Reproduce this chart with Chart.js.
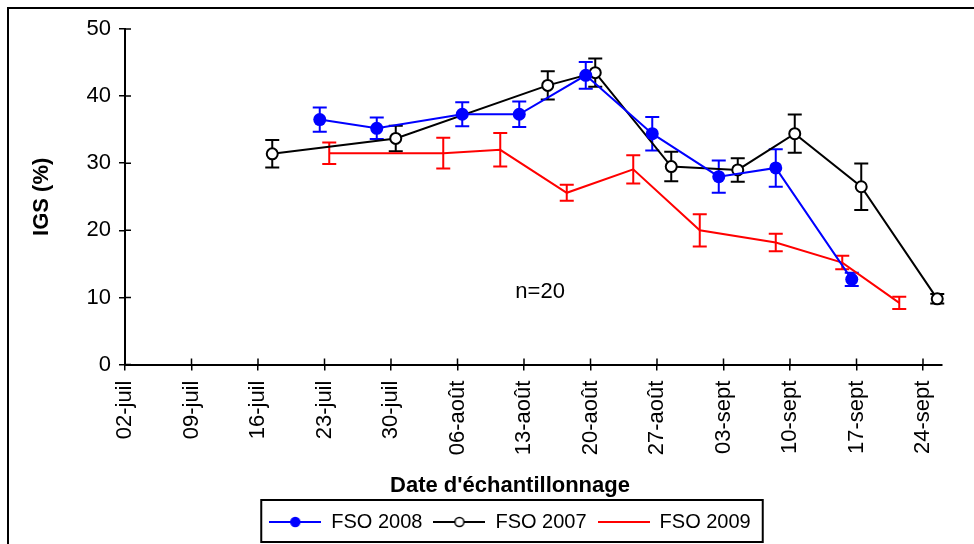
<!DOCTYPE html>
<html>
<head>
<meta charset="utf-8">
<script src="https://cdn.jsdelivr.net/npm/chart.js"></script>
<style>
	body { margin: 0; overflow: hidden; background: #fff; }
	#frame { position: absolute; left: 7px; top: 7px; width: 2000px; height: 2000px; border: 2px solid #000; }
	#wrap { position: absolute; left: 0; top: 0; width: 1020px; height: 544px; }
</style>
</head>
<body>
<div id="frame"></div>
<div id="wrap"><canvas id="Chart"></canvas></div>
<script>
// days counted from 02-juil
const tickDays = [0, 7, 14, 21, 28, 35, 42, 49, 56, 63, 70, 77, 84];
const tickLabels = ['02-juil', '09-juil', '16-juil', '23-juil', '30-juil', '06-août', '13-août',
	'20-août', '27-août', '03-sept', '10-sept', '17-sept', '24-sept'];

const fso2008Days = [20.5, 26.5, 35.5, 41.5, 48.5, 55.5, 62.5, 68.5, 76.5];
const fso2008Igs = [36.5, 35.2, 37.3, 37.3, 43.1, 34.4, 28.0, 29.3, 12.7];
const fso2008Err = [1.8, 1.6, 1.8, 1.9, 2.0, 2.5, 2.4, 2.8, 1.0];

const fso2007Days = [15.5, 28.5, 44.5, 49.5, 57.5, 64.5, 70.5, 77.5, 85.5];
const fso2007Igs = [31.4, 33.7, 41.6, 43.5, 29.5, 29.0, 34.4, 26.5, 9.8];
const fso2007Err = [2.05, 1.9, 2.1, 2.1, 2.2, 1.75, 2.85, 3.45, 0.7];

const fso2009Days = [21.5, 33.5, 39.5, 46.5, 53.5, 60.5, 68.5, 75.5, 81.5];
const fso2009Igs = [31.5, 31.5, 32.0, 25.6, 29.1, 20.0, 18.2, 15.2, 9.2];
const fso2009Err = [1.6, 2.3, 2.5, 1.2, 2.1, 2.4, 1.3, 1.0, 0.9];

const note = { text: 'n=20', day: 43.7, igs: 10.9 };

const FONT = "'Liberation Sans', Arial, sans-serif";

const toPoints = (days, vals) => days.map((d, i) => ({ x: d, y: vals[i] }));

// small line+marker icon for the legend
function legendIcon(color, fill, radius)
{
	const c = document.createElement('canvas');
	c.width = 52; c.height = 14;
	const g = c.getContext('2d');
	g.strokeStyle = color; g.lineWidth = 2;
	g.beginPath(); g.moveTo(0, 7); g.lineTo(52, 7); g.stroke();
	if (radius > 0) {
		g.beginPath(); g.arc(26, 7, radius, 0, Math.PI * 2);
		g.fillStyle = fill; g.fill();
		g.lineWidth = 1.5; g.stroke();
	}
	return c;
}

const errorBars = {
	id: 'errorBars',
	beforeDatasetsDraw(chart) {
		const ctx = chart.ctx;
		const xs = chart.scales.x, ys = chart.scales.y;
		ctx.save();
		chart.data.datasets.forEach((ds) => {
			ctx.strokeStyle = ds.borderColor;
			ctx.lineWidth = 2;
			ds.data.forEach((p, i) => {
				const e = ds.errors[i];
				const px = xs.getPixelForValue(p.x);
				const top = ys.getPixelForValue(p.y + e);
				const bot = ys.getPixelForValue(p.y - e);
				ctx.beginPath();
				ctx.moveTo(px, top); ctx.lineTo(px, bot);
				ctx.moveTo(px - 7, top); ctx.lineTo(px + 7, top);
				ctx.moveTo(px - 7, bot); ctx.lineTo(px + 7, bot);
				ctx.stroke();
			});
		});
		ctx.restore();
	},
	afterDraw(chart) {
		const ctx = chart.ctx;
		const xs = chart.scales.x, ys = chart.scales.y;
		const area = chart.chartArea;
		ctx.save();
		// inner half of the crossing tick marks
		ctx.strokeStyle = '#000'; ctx.lineWidth = 1.5;
		ctx.beginPath();
		xs.ticks.forEach((t) => {
			const px = xs.getPixelForValue(t.value);
			ctx.moveTo(px, area.bottom); ctx.lineTo(px, area.bottom - 6);
		});
		ys.ticks.forEach((t) => {
			const py = ys.getPixelForValue(t.value);
			ctx.moveTo(area.left, py); ctx.lineTo(area.left + 6, py);
		});
		ctx.stroke();
		// box round the legend
		const boxes = chart.legend.legendHitBoxes;
		if (boxes && boxes.length) {
			const first = boxes[0], last = boxes[boxes.length - 1];
			const cy = first.top + first.height / 2;
			ctx.lineWidth = 2;
			ctx.strokeRect(first.left - 8, cy - 22, last.left + last.width - first.left + 20, 42);
		}
		// sample size note
		ctx.fillStyle = '#000';
		ctx.font = '22px ' + FONT;
		ctx.textAlign = 'center'; ctx.textBaseline = 'middle';
		ctx.fillText(note.text, xs.getPixelForValue(note.day), ys.getPixelForValue(note.igs));
		ctx.restore();
	}
};

const ready = (callback) => {
	if (document.readyState != 'loading') callback();
	else document.addEventListener('DOMContentLoaded', callback);
};

ready(() => {
	drawChart();
});

function drawChart()
{
	const ctx = document.getElementById('Chart').getContext('2d');
	const icons = [
		legendIcon('#0000ff', '#0000ff', 4.5),
		legendIcon('#000000', '#ffffff', 4.5),
		legendIcon('#ff0000', '#ff0000', 0)
	];

	new Chart(ctx, {
		type: 'line',
		data: {
			datasets: [{
				label: 'FSO 2008',
				data: toPoints(fso2008Days, fso2008Igs),
				errors: fso2008Err,
				borderColor: '#0000ff',
				backgroundColor: '#0000ff',
				pointBackgroundColor: '#0000ff',
				pointRadius: 6.5,
				pointBorderWidth: 0,
				borderWidth: 2,
				tension: 0,
				clip: false
			}, {
				label: 'FSO 2007',
				data: toPoints(fso2007Days, fso2007Igs),
				errors: fso2007Err,
				borderColor: '#000000',
				backgroundColor: '#ffffff',
				pointBackgroundColor: '#ffffff',
				pointRadius: 5.5,
				pointBorderWidth: 2,
				borderWidth: 2,
				tension: 0,
				clip: false
			}, {
				label: 'FSO 2009',
				data: toPoints(fso2009Days, fso2009Igs),
				errors: fso2009Err,
				borderColor: '#ff0000',
				backgroundColor: '#ff0000',
				pointRadius: 0,
				borderWidth: 2,
				tension: 0,
				clip: false
			}]
		},
		options: {
			responsive: true,
			maintainAspectRatio: false,
			animation: false,
			layout: { padding: { left: 0, top: 29, right: 0, bottom: 2 } },
			scales: {
				x: {
					type: 'linear',
					min: 0,
					max: 86,
					afterBuildTicks: (scale) => { scale.ticks = tickDays.map((v) => ({ value: v })); },
					afterFit: (scale) => { scale.height = 100; },
					grid: { display: true, drawOnChartArea: false, tickLength: 6, color: '#000', lineWidth: 1.5 },
					border: { display: true, color: '#000', width: 2 },
					ticks: {
						minRotation: 90,
						maxRotation: 90,
						padding: 10,
						color: '#000',
						font: { family: FONT, size: 22 },
						callback: (v) => tickLabels[tickDays.indexOf(v)]
					}
				},
				y: {
					min: 0,
					max: 50,
					afterFit: (scale) => { scale.width = 125; },
					grid: { display: true, drawOnChartArea: false, tickLength: 6, color: '#000', lineWidth: 1.5 },
					border: { display: true, color: '#000', width: 2 },
					ticks: { stepSize: 10, padding: 8, color: '#000', font: { family: FONT, size: 22 } },
					title: {
						display: true,
						text: 'IGS (%)',
						color: '#000',
						font: { family: FONT, size: 22, weight: 'bold' },
						padding: { top: 29, bottom: 0 }
					}
				},
				// empty right-hand space so legend and title centre like the original
				spacer: {
					position: 'right',
					afterFit: (scale) => { scale.width = 78; },
					grid: { display: false },
					border: { display: false },
					ticks: { display: false }
				}
			},
			plugins: {
				title: {
					display: true,
					position: 'bottom',
					text: "Date d'échantillonnage",
					color: '#000',
					font: { family: FONT, size: 22, weight: 'bold' },
					padding: { top: 8, bottom: 2 },
					weight: 500
				},
				legend: {
					position: 'bottom',
					labels: {
						usePointStyle: true,
						pointStyleWidth: 52,
						padding: 11,
						color: '#000',
						font: { family: FONT, size: 20 },
						generateLabels: (chart) => {
							const items = Chart.defaults.plugins.legend.labels.generateLabels(chart);
							items.forEach((it) => { it.pointStyle = icons[it.datasetIndex]; });
							return items;
						}
					}
				},
				tooltip: { enabled: false }
			}
		},
		plugins: [errorBars]
	});
}
</script>
</body>
</html>
